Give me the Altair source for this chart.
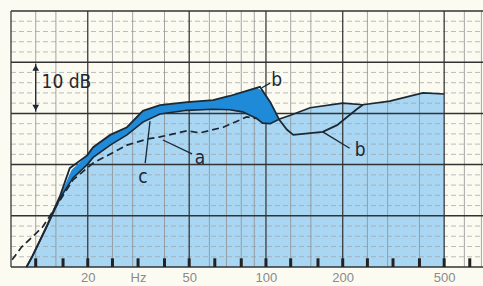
import altair as alt
import pandas as pd

# ---- data ----
c_freq = [11.5, 12.1, 13.8, 15.6, 17.5, 19.9, 21.0, 24.5, 28.5, 32.9, 38.4, 49, 62, 72, 81, 92, 97, 104, 113, 124, 149, 200, 240, 306, 413, 500]
c_db   = [0, 2.0, 7.8, 13.5, 17.4, 20.0, 21.4, 23.8, 25.8, 28.3, 29.9, 30.6, 30.8, 30.7, 30.3, 29.0, 28.1, 28.0, 28.9, 29.6, 31.1, 32.0, 31.7, 32.4, 34.0, 33.8]

b_freq = [11.5, 12.1, 13.8, 15.6, 17.0, 19.9, 21.0, 24.5, 28.5, 32.9, 38.4, 49, 62, 72, 84, 94.7, 104, 113, 121, 128, 167, 190, 227, 240]
b_db   = [0, 2.0, 8.0, 14.0, 19.3, 21.8, 23.4, 25.8, 27.3, 30.5, 31.6, 32.2, 32.6, 33.4, 34.4, 35.2, 32.2, 28.7, 26.8, 25.8, 26.4, 27.7, 30.8, 31.7]

band_freq = [11.5, 13.8, 15.6, 17.3, 19.9, 21.0, 24.5, 28.5, 32.9, 38.4, 49, 62, 72, 84, 92, 97, 104, 112]
band_hi   = [0, 8.0, 14.0, 19.0, 21.8, 23.4, 25.8, 27.3, 30.5, 31.6, 32.2, 32.6, 33.4, 34.4, 35.0, 34.4, 32.2, 28.9]
band_lo   = [0, 7.8, 13.5, 17.2, 20.0, 21.4, 23.8, 25.8, 28.3, 29.9, 30.6, 30.8, 30.7, 30.0, 29.0, 28.1, 28.0, 28.9]

a_freq = [10.1, 11.0, 13.3, 15.6, 17.5, 21.0, 28.5, 34.2, 38.4, 49, 55, 68, 84, 92]
a_db   = [1.4, 3.9, 7.8, 13.1, 17.0, 20.3, 23.8, 25.0, 25.4, 26.6, 26.2, 27.3, 29.3, 29.0]

grid_major_f = [10, 20, 50, 100, 200, 500]
grid_minor_f = [12.5, 15, 25, 30, 40, 60, 70, 80, 90, 125, 150, 250, 300, 400, 600, 700]
grid_major_db = [0, 10, 20, 30, 40, 50]
grid_minor_db = [2, 4, 6, 8, 12, 14, 16, 18, 22, 24, 26, 28, 32, 34, 36, 38, 42, 44, 46, 48]
third_octave = [12.5, 16, 20, 25, 31.5, 40, 50, 63, 80, 100, 125, 160, 200, 250, 315, 400, 500, 630]
axis_values = [20, 31.5, 50, 100, 200, 500]

label_text = ["a", "c", "b", "b"]
label_f    = [55.1, 32.9, 110.2, 234]
label_db   = [21.3, 17.6, 36.5, 22.9]
lead_f1  = [39.4, 35.1, 96.4, 167]
lead_db1 = [24.8, 28.5, 35.0, 26.4]
lead_f2  = [51.3, 33.6, 103.9, 213]
lead_db2 = [22.1, 20.3, 35.9, 23.2]

F_MIN, F_MAX, DB_MIN, DB_MAX = 10, 710, 0, 50
TICK_TOP = 1.7

LIGHT = "#a9d6f3"
DARK = "#1f8ad8"
INK = "#1c2833"
FONT = "Liberation Sans Narrow, DejaVu Sans Condensed, Liberation Sans"

xs = alt.Scale(type="log", domain=[F_MIN, F_MAX], nice=False)
ys = alt.Scale(domain=[DB_MIN, DB_MAX], nice=False)


def X():
    return alt.X("f:Q", scale=xs)


def Y(field="db"):
    return alt.Y(f"{field}:Q", scale=ys)


def segs(pairs):
    rows = []
    for i, (p, q) in enumerate(pairs):
        rows.append({"g": i, "k": 0, "f": p[0], "db": p[1]})
        rows.append({"g": i, "k": 1, "f": q[0], "db": q[1]})
    return pd.DataFrame(rows)


def seg_layer(df, **kw):
    return alt.Chart(df).mark_line(**kw).encode(
        x=X(), y=Y(), detail="g:N", order="k:Q")


df_c = pd.DataFrame({"f": c_freq, "db": c_db})
df_b = pd.DataFrame({"f": b_freq, "db": b_db})
df_a = pd.DataFrame({"f": a_freq, "db": a_db})
df_band = pd.DataFrame({"f": band_freq, "hi": band_hi, "lo": band_lo})

light = alt.Chart(df_c).mark_area(color=LIGHT).encode(
    x=alt.X("f:Q", scale=xs, title=None,
            axis=alt.Axis(values=axis_values, grid=False, domain=False, ticks=False,
                          labelExpr="datum.value == 31.5 ? 'Hz' : datum.label",
                          labelColor="#8a8a8a", labelFontSize=13, labelPadding=4, title=None)),
    y=alt.Y("db:Q", scale=ys, axis=None),
)

minor_v = seg_layer(segs([((f, DB_MIN), (f, DB_MAX)) for f in grid_minor_f]), color="#8f8f8f", strokeWidth=0.8)
major_v = seg_layer(segs([((f, DB_MIN), (f, DB_MAX)) for f in grid_major_f]), color="#3a3a3a", strokeWidth=1.3)
minor_h = seg_layer(segs([((F_MIN, d), (F_MAX, d)) for d in grid_minor_db]), color="#a0a0a0", strokeWidth=0.7, strokeDash=[5, 3])
major_h = seg_layer(segs([((F_MIN, d), (F_MAX, d)) for d in grid_major_db]), color="#333333", strokeWidth=1.5)
ticks = seg_layer(segs([((f, DB_MIN), (f, TICK_TOP)) for f in third_octave]), color="#222222", strokeWidth=3)

dark = alt.Chart(df_band).mark_area(color=DARK).encode(x=X(), y=Y("hi"), y2="lo:Q")

line_c = alt.Chart(df_c).mark_line(color=INK, strokeWidth=1.6).encode(x=X(), y=Y())
line_b = alt.Chart(df_b).mark_line(color=INK, strokeWidth=1.8).encode(x=X(), y=Y())
line_a = alt.Chart(df_a).mark_line(color=INK, strokeWidth=1.7, strokeDash=[7, 4]).encode(x=X(), y=Y())

leaders = seg_layer(segs([((lead_f1[i], lead_db1[i]), (lead_f2[i], lead_db2[i])) for i in range(len(label_text))]),
                    color=INK, strokeWidth=1.3)
df_lab = pd.DataFrame({"t": label_text, "f": label_f, "db": label_db})
labels = alt.Chart(df_lab).mark_text(font=FONT, fontSize=19, color=INK).encode(x=X(), y=Y(), text="t:N")

arrow_line = seg_layer(segs([((12.5, 30.3), (12.5, 39.7))]), color=INK, strokeWidth=1.3)
df_up = pd.DataFrame({"f": [12.5], "db": [38.9]})
df_dn = pd.DataFrame({"f": [12.5], "db": [31.1]})
arrow_up = alt.Chart(df_up).mark_point(shape="triangle-up", filled=True, color=INK, size=45, opacity=1).encode(x=X(), y=Y())
arrow_dn = alt.Chart(df_dn).mark_point(shape="triangle-down", filled=True, color=INK, size=45, opacity=1).encode(x=X(), y=Y())
db_text = alt.Chart(pd.DataFrame({"f": [16.5], "db": [36.1], "t": ["10 dB"]})).mark_text(
    font=FONT, fontSize=19, color=INK).encode(x=X(), y=Y(), text="t:N")

chart = alt.layer(
    light, minor_h, minor_v, major_v, major_h, ticks, dark, line_a, line_c, line_b,
    leaders, labels, arrow_line, arrow_up, arrow_dn, db_text
).properties(
    width=472, height=256,
    autosize=alt.AutoSizeParams(type="none"),
    padding={"left": 11, "top": 11, "right": 0, "bottom": 19},
    background="#fcfbf1",
).configure_view(strokeWidth=0)

chart.save("out.html", embed_options={"renderer": "svg", "actions": False})
